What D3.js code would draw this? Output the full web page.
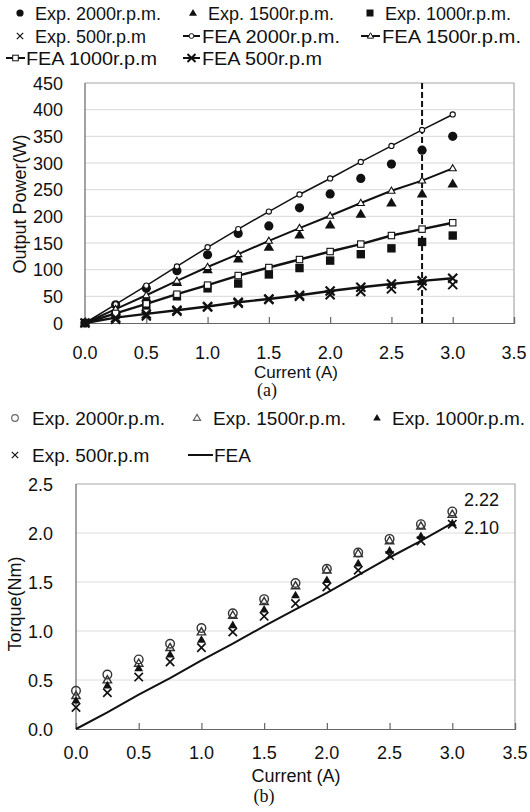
<!DOCTYPE html>
<html><head><meta charset="utf-8">
<script src="https://cdn.jsdelivr.net/npm/d3@7"></script>
<style>
body{margin:0;background:#fff}
svg{display:block}
text{font-family:"Liberation Sans",Arial,sans-serif;fill:#111}
.cap{font-family:"Liberation Serif","Times New Roman",serif}
</style>
</head><body>
<svg id="c" width="530" height="812"></svg>
<script>
// ---------- data ----------
const current = [0, 0.25, 0.5, 0.75, 1.0, 1.25, 1.5, 1.75, 2.0, 2.25, 2.5, 2.75, 3.0];

// (a) output power (W)
const feaPower2000 = [0, 35, 70, 106, 142, 176, 209, 241, 271, 302, 332, 362, 391];
const expPower2000 = [0, 34, 65, 98, 128, 168, 182, 216, 242, 271, 298, 324, 350];
const feaPower1500 = [0, 26, 52, 79, 105, 129, 154, 178, 201, 225, 248, 267, 290];
const expPower1500 = [0, 22, 47, 76, 100, 120, 142, 165, 184, 204, 225, 242, 261];
const feaPower1000 = [0, 18, 36, 54, 71, 89, 104, 119, 134, 148, 164, 176, 188];
const expPower1000 = [0, 15, 33, 50, 65, 74, 91, 103, 117, 129, 140, 152, 164];
const feaPower500  = [0, 10, 17, 24, 31, 39, 45, 52, 60, 67, 73, 79, 84];
const expPower500  = [0, 7, 13, 22, 30, 37, 44, 50, 53, 59, 64, 70, 72];
const ratedCurrent = 2.75;

// (b) torque (Nm)
const expTorque2000 = [0.39, 0.555, 0.71, 0.87, 1.03, 1.18, 1.325, 1.49, 1.635, 1.80, 1.94, 2.09, 2.22];
const expTorque1500 = [0.34, 0.50, 0.67, 0.83, 0.99, 1.16, 1.30, 1.46, 1.62, 1.79, 1.92, 2.07, 2.19];
const expTorque1000 = [0.29, 0.445, 0.62, 0.76, 0.91, 1.06, 1.22, 1.365, 1.52, 1.69, 1.82, 1.97, 2.10];
const expTorque500  = [0.22, 0.37, 0.53, 0.685, 0.83, 0.99, 1.15, 1.28, 1.45, 1.62, 1.77, 1.92, 2.09];
const feaTorque     = [0, 0.17, 0.35, 0.52, 0.70, 0.87, 1.05, 1.22, 1.39, 1.57, 1.75, 1.92, 2.10];
const torqueNotes = ["2.22", "2.10"];

// ticks
const currentTicks = [0, 0.5, 1.0, 1.5, 2.0, 2.5, 3.0, 3.5];
const powerTicks = [0, 50, 100, 150, 200, 250, 300, 350, 400, 450];
const torqueTicks = [0, 0.5, 1.0, 1.5, 2.0, 2.5];

const legendA = ["Exp. 2000r.p.m.", "Exp. 1500r.p.m.", "Exp. 1000r.p.m.", "Exp. 500r.p.m",
                 "FEA 2000r.p.m.", "FEA 1500r.p.m.", "FEA 1000r.p.m", "FEA 500r.p.m"];
const legendB = ["Exp. 2000r.p.m.", "Exp. 1500r.p.m.", "Exp. 1000r.p.m.", "Exp. 500r.p.m", "FEA"];

// ---------- helpers ----------
const svg = d3.select("#c");
const fmt1 = d3.format(".1f");

function marker(g, type, x, y, s, o = {}) {
  const stroke = o.stroke || "#111", sw = o.sw || 1.3;
  if (type === "dot") {
    g.append("circle").attr("cx", x).attr("cy", y).attr("r", s).attr("fill", o.fill || "#111");
  } else if (type === "circle") {
    g.append("circle").attr("cx", x).attr("cy", y).attr("r", s)
      .attr("fill", o.fill || "none").attr("stroke", stroke).attr("stroke-width", sw);
  } else if (type === "tri" || type === "otri") {
    const h = s * 1.8, w = s * 2.1;
    const p = `M${x},${y - h * 0.6}L${x + w / 2},${y + h * 0.4}L${x - w / 2},${y + h * 0.4}Z`;
    const el = g.append("path").attr("d", p);
    if (type === "tri") el.attr("fill", o.fill || "#111");
    else el.attr("fill", o.fill || "none").attr("stroke", stroke).attr("stroke-width", sw);
  } else if (type === "sq" || type === "osq") {
    const el = g.append("rect").attr("x", x - s).attr("y", y - s).attr("width", 2 * s).attr("height", 2 * s);
    if (type === "sq") el.attr("fill", o.fill || "#111");
    else el.attr("fill", o.fill || "none").attr("stroke", stroke).attr("stroke-width", sw);
  } else if (type === "x") {
    g.append("path").attr("d", `M${x - s},${y - s}L${x + s},${y + s}M${x - s},${y + s}L${x + s},${y - s}`)
      .attr("stroke", stroke).attr("stroke-width", sw).attr("fill", "none");
  }
}

function frame(g, x, y, yTicks, yFmt, labelRight, gridCol) {
  const [x0, x1] = x.range(), [y0, y1] = y.range();
  g.append("g").selectAll("line").data(yTicks.filter((d, i) => i > 0 && i < yTicks.length - 1)).join("line")
    .attr("x1", x0).attr("x2", x1).attr("y1", d => y(d)).attr("y2", d => y(d))
    .attr("stroke", gridCol).attr("stroke-width", 1);
  g.append("path").attr("d", `M${x0},${y1}H${x1}V${y0}`).attr("fill", "none")
    .attr("stroke", "#a8a8a8").attr("stroke-width", 1.2);
  g.append("line").attr("x1", x0).attr("x2", x0).attr("y1", y0).attr("y2", y1)
    .attr("stroke", "#666").attr("stroke-width", 1.2);
  const ax = g.append("g").attr("transform", `translate(0,${y0})`)
    .call(d3.axisBottom(x).tickValues(currentTicks).tickSize(-6).tickFormat(""));
  ax.select(".domain").attr("stroke", "#666").attr("stroke-width", 1.2);
  ax.selectAll(".tick line").attr("stroke", "#666").attr("stroke-width", 1.2);
  g.append("g").selectAll("text").data(yTicks).join("text")
    .attr("x", labelRight).attr("y", d => y(d) + 6.5).attr("text-anchor", "end")
    .style("font-size", "18px").text(yFmt);
}

// ================= (a) =================
const xA = d3.scaleLinear().domain([0, 3.5]).range([85, 514]);
const yA = d3.scaleLinear().domain([0, 450]).range([323, 83]);
const gA = svg.append("g");
frame(gA, xA, yA, powerTicks, d => d, 63, "#d9d9d9");

gA.append("g").selectAll("text").data(currentTicks).join("text")
  .attr("x", d => xA(d)).attr("y", 358.5).attr("text-anchor", "middle")
  .style("font-size", "18px").text(fmt1);
gA.append("text").attr("x", 296).attr("y", 377.5).attr("text-anchor", "middle")
  .style("font-size", "17px").text("Current (A)");
gA.append("text").attr("transform", "translate(20,204) rotate(-90)").attr("text-anchor", "middle")
  .attr("dy", "0.35em").style("font-size", "18px").text("Output Power(W)");
gA.append("text").attr("class", "cap").attr("x", 267).attr("y", 396).attr("text-anchor", "middle")
  .style("font-size", "18px").text("(a)");

gA.append("line").attr("x1", xA(ratedCurrent)).attr("x2", xA(ratedCurrent))
  .attr("y1", yA(450)).attr("y2", yA(0))
  .attr("stroke", "#111").attr("stroke-width", 2).attr("stroke-dasharray", "6,3");

const lineA = vals => d3.line().x((d, i) => xA(current[i])).y(d => yA(d))(vals);
const feaA = [
  {vals: feaPower2000, m: "circle", s: 2.6, w: 1.5},
  {vals: feaPower1500, m: "otri", s: 3.4, w: 2},
  {vals: feaPower1000, m: "osq", s: 3.2, w: 2.4},
  {vals: feaPower500, m: "x", s: 4.5, w: 2.4}
];
feaA.forEach(f => {
  gA.append("path").attr("d", lineA(f.vals)).attr("fill", "none")
    .attr("stroke", "#111").attr("stroke-width", f.w);
});
const expA = [
  {vals: expPower2000, m: "dot", s: 4.6},
  {vals: expPower1500, m: "tri", s: 5},
  {vals: expPower1000, m: "sq", s: 4.2},
  {vals: expPower500, m: "x", s: 4.5}
];
expA.forEach(e => {
  const g = gA.append("g");
  e.vals.forEach((v, i) => marker(g, e.m, xA(current[i]), yA(v), e.s, {sw: 2}));
});
feaA.forEach(f => {
  const g = gA.append("g");
  f.vals.forEach((v, i) => {
    if (i === 0) return;
    marker(g, f.m, xA(current[i]), yA(v), f.s, {fill: f.m === "x" ? null : "#fff", sw: f.m === "x" ? 2.2 : 1.1});
  });
});

// legend (a)
const lg = svg.append("g").style("font-size", "18px");
const legA = [
  {t: legendA[0], mx: 20, y: 13, tx: 35, m: "dot", s: 3.6},
  {t: legendA[1], mx: 193, y: 13, tx: 208, m: "tri", s: 3.8},
  {t: legendA[2], mx: 370, y: 13, tx: 385, m: "sq", s: 3.5},
  {t: legendA[3], mx: 20, y: 36, tx: 35, m: "x", s: 3.2, sw: 1.2},
  {t: legendA[4], l: [183, 200], y: 36, tx: 202, m: "circle", s: 2.4, tl: 138},
  {t: legendA[5], l: [361, 380], y: 36, tx: 382, m: "otri", s: 3, tl: 139},
  {t: legendA[6], l: [6, 25], y: 58, tx: 26, m: "osq", s: 2.8, tl: 131},
  {t: legendA[7], l: [183, 200], y: 58, tx: 202, m: "x", s: 4, tl: 120}
];
legA.forEach(d => {
  if (d.l) {
    lg.append("line").attr("x1", d.l[0]).attr("x2", d.l[1]).attr("y1", d.y).attr("y2", d.y)
      .attr("stroke", "#111").attr("stroke-width", 2);
    marker(lg, d.m, (d.l[0] + d.l[1]) / 2, d.y, d.s, {fill: d.m === "x" ? null : "#fff", sw: d.m === "x" ? 2 : 1});
  } else {
    marker(lg, d.m, d.mx, d.y, d.s, {sw: d.sw || 1.5});
  }
  const t = lg.append("text").attr("x", d.tx).attr("y", d.y + 6.5).text(d.t);
  if (d.tl) t.attr("textLength", d.tl).attr("lengthAdjust", "spacingAndGlyphs");
});

// ================= (b) =================
const xB = d3.scaleLinear().domain([0, 3.5]).range([76, 515]);
const yB = d3.scaleLinear().domain([0, 2.5]).range([729, 484]);
const gB = svg.append("g");
frame(gB, xB, yB, torqueTicks, fmt1, 53, "#dcdcdc");

gB.append("g").selectAll("text").data(currentTicks).join("text")
  .attr("x", d => xB(d)).attr("y", 758.5).attr("text-anchor", "middle")
  .style("font-size", "18px").text(fmt1);
gB.append("text").attr("x", 296).attr("y", 781.5).attr("text-anchor", "middle")
  .style("font-size", "18px").text("Current (A)");
gB.append("text").attr("transform", "translate(15,604) rotate(-90)").attr("text-anchor", "middle")
  .attr("dy", "0.35em").style("font-size", "18px").text("Torque(Nm)");
gB.append("text").attr("class", "cap").attr("x", 264).attr("y", 802).attr("text-anchor", "middle")
  .style("font-size", "18px").text("(b)");

gB.append("path").attr("d", d3.line().x((d, i) => xB(current[i])).y(d => yB(d))(feaTorque))
  .attr("fill", "none").attr("stroke", "#111").attr("stroke-width", 2);

const expB = [
  {vals: expTorque2000, m: "circle", s: 4.3, stroke: "#333", sw: 1.4},
  {vals: expTorque1500, m: "otri", s: 4, stroke: "#333", sw: 1.4},
  {vals: expTorque1000, m: "tri", s: 4.2},
  {vals: expTorque500, m: "x", s: 4.2, sw: 1.7, stroke: "#111"}
];
expB.forEach(e => {
  const g = gB.append("g");
  e.vals.forEach((v, i) => marker(g, e.m, xB(current[i]), yB(v), e.s, {stroke: e.stroke, sw: e.sw}));
});
gB.append("text").attr("x", 464).attr("y", 505.5).style("font-size", "18px").text(torqueNotes[0]);
gB.append("text").attr("x", 464).attr("y", 533.5).style("font-size", "18px").text(torqueNotes[1]);

// legend (b)
const lgb = svg.append("g").style("font-size", "19px");
const legB = [
  {t: legendB[0], mx: 15, y: 418, tx: 32, m: "circle", s: 3.3, stroke: "#666"},
  {t: legendB[1], mx: 197, y: 418, tx: 213, m: "otri", s: 3.4, stroke: "#666"},
  {t: legendB[2], mx: 377, y: 418, tx: 392, m: "tri", s: 3.6},
  {t: legendB[3], mx: 15, y: 455, tx: 32, m: "x", s: 3.2},
  {t: legendB[4], l: [188, 213], y: 455, tx: 214}
];
legB.forEach(d => {
  if (d.l) {
    lgb.append("line").attr("x1", d.l[0]).attr("x2", d.l[1]).attr("y1", d.y).attr("y2", d.y)
      .attr("stroke", "#111").attr("stroke-width", 2);
  } else {
    marker(lgb, d.m, d.mx, d.y, d.s, {stroke: d.stroke, sw: 1.2});
  }
  lgb.append("text").attr("x", d.tx).attr("y", d.y + 7).text(d.t);
});
</script>
</body></html>
